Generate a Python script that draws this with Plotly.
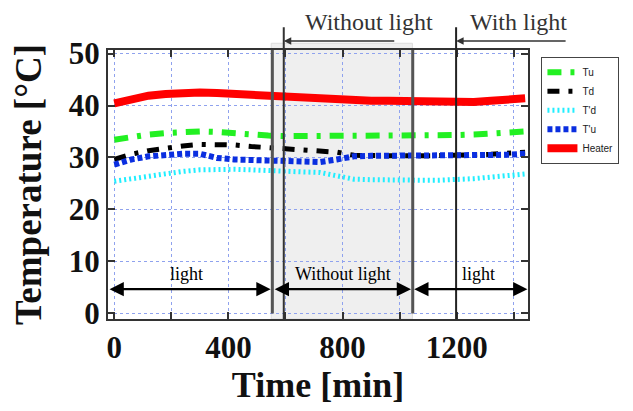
import plotly.graph_objects as go

time_min = [0, 60, 120, 180, 240, 300, 360, 420, 480, 540, 600, 660, 720, 780, 840,
            900, 960, 1020, 1080, 1140, 1200, 1260, 1320, 1380, 1440]
heater = [40.4, 41.3, 41.9, 42.2, 42.4, 42.5, 42.4, 42.2, 42.0, 41.8, 41.7, 41.6, 41.5,
          41.2, 40.9, 40.9, 40.9, 40.8, 40.7, 40.6, 40.6, 40.7, 40.9, 41.1, 41.4]
tu = [33.4, 34.0, 34.4, 34.7, 34.9, 35.0, 34.9, 34.6, 34.4, 34.2, 34.1, 34.1, 34.2,
      34.3, 34.3, 34.2, 34.2, 34.2, 34.2, 34.2, 34.3, 34.4, 34.6, 34.8, 35.0]
td = [29.6, 30.6, 31.3, 31.8, 32.2, 32.5, 32.5, 32.4, 32.1, 31.9, 31.7, 31.5, 31.3,
      31.0, 30.4, 30.3, 30.3, 30.3, 30.3, 30.3, 30.4, 30.5, 30.6, 30.8, 31.0]
tdp = [25.4, 25.9, 26.4, 26.9, 27.3, 27.6, 27.7, 27.7, 27.6, 27.4, 27.3, 27.2, 27.1,
       26.4, 25.8, 25.7, 25.6, 25.6, 25.6, 25.6, 25.7, 25.9, 26.2, 26.5, 26.8]
tup = [28.6, 29.6, 30.2, 30.5, 30.7, 30.7, 29.9, 29.6, 29.4, 29.4, 29.3, 29.2, 29.1,
       29.6, 30.2, 30.3, 30.3, 30.3, 30.3, 30.3, 30.3, 30.4, 30.4, 30.5, 30.7]

x_ticks = [0, 200, 400, 600, 800, 1000, 1200, 1400]
x_labels = ["0", "", "400", "", "800", "", "1200", ""]
y_ticks = [0, 10, 20, 30, 40, 50]

# phase boundaries (min)
shade_start, shade_end = 550, 1045
line_a, line_b, line_c, line_d = 554, 594, 1046, 1198

SERIF = "Liberation Serif"

fig = go.Figure()
fig.add_trace(go.Scatter(x=time_min, y=tu, name="Tu", mode="lines",
                         line=dict(color="#22f022", width=6, dash="14px,9px,4px,9px")))
fig.add_trace(go.Scatter(x=time_min, y=td, name="Td", mode="lines",
                         line=dict(color="black", width=5, dash="12px,9px,4px,9px")))
fig.add_trace(go.Scatter(x=time_min, y=tdp, name="T'd", mode="lines",
                         line=dict(color="#22eeff", width=5, dash="2px,3px")))
fig.add_trace(go.Scatter(x=time_min, y=tup, name="T'u", mode="lines",
                         line=dict(color="#0a2ee0", width=6, dash="5px,3px")))
fig.add_trace(go.Scatter(x=time_min, y=heater, name="Heater", mode="lines",
                         line=dict(color="#ff0000", width=8)))

shapes = [
    dict(type="rect", xref="x", yref="paper", x0=shade_start, x1=shade_end, y0=0, y1=1.025,
         fillcolor="#efefef", line=dict(color="#dddddd", width=1), layer="below"),
    dict(type="line", xref="x", yref="paper", x0=line_a, x1=line_a, y0=0.02, y1=1,
         line=dict(color="#555555", width=3)),
    dict(type="line", xref="x", yref="paper", x0=line_b, x1=line_b, y0=0, y1=1.085,
         line=dict(color="#333333", width=2)),
    dict(type="line", xref="x", yref="paper", x0=line_c, x1=line_c, y0=0.02, y1=1,
         line=dict(color="#555555", width=3)),
    dict(type="line", xref="x", yref="paper", x0=line_d, x1=line_d, y0=0, y1=1.085,
         line=dict(color="#222222", width=2)),
]

annotations = [
    # top labels
    dict(x=894, y=1.104, xref="x", yref="paper", yanchor="middle", text="Without light",
         showarrow=False, borderpad=0, font=dict(family=SERIF, size=24, color="#333333")),
    dict(x=1418, y=1.104, xref="x", yref="paper", yanchor="middle", text="With light",
         showarrow=False, borderpad=0, font=dict(family=SERIF, size=24, color="#333333")),
    # top arrows
    dict(x=line_b, y=1.033, xref="x", yref="paper", ax=112, ay=0, text="", showarrow=True,
         arrowhead=2, arrowsize=1, arrowwidth=1.5, arrowcolor="#333333"),
    dict(x=line_d, y=1.033, xref="x", yref="paper", ax=111, ay=0, text="", showarrow=True,
         arrowhead=2, arrowsize=1, arrowwidth=1.5, arrowcolor="#333333"),
    # bottom double arrows
    dict(x=548, y=4.6, xref="x", yref="y", ax=-22, ay=4.6, axref="x", ayref="y", text="",
         showarrow=True, arrowhead=2, startarrowhead=2, arrowside="end+start",
         arrowsize=1.3, startarrowsize=1.3, arrowwidth=2.2, arrowcolor="black"),
    dict(x=1040, y=4.6, xref="x", yref="y", ax=557, ay=4.6, axref="x", ayref="y", text="",
         showarrow=True, arrowhead=2, startarrowhead=2, arrowside="end+start",
         arrowsize=1.3, startarrowsize=1.3, arrowwidth=2.2, arrowcolor="black"),
    dict(x=1448, y=4.6, xref="x", yref="y", ax=1046, ay=4.6, axref="x", ayref="y", text="",
         showarrow=True, arrowhead=2, startarrowhead=2, arrowside="end+start",
         arrowsize=1.3, startarrowsize=1.3, arrowwidth=2.2, arrowcolor="black"),
    dict(x=252, y=7.6, xref="x", yref="y", text="light", showarrow=False,
         font=dict(family=SERIF, size=18, color="black")),
    dict(x=800, y=7.6, xref="x", yref="y", text="Without light", showarrow=False,
         font=dict(family=SERIF, size=18, color="black")),
    dict(x=1275, y=7.6, xref="x", yref="y", text="light", showarrow=False,
         font=dict(family=SERIF, size=18, color="black")),
]

grid_color = "#8fa2ee"
fig.update_layout(
    width=625, height=403,
    margin=dict(l=100, r=105, t=42, b=92, autoexpand=False),
    paper_bgcolor="white", plot_bgcolor="white",
    shapes=shapes, annotations=annotations,
    showlegend=True,
    legend=dict(x=1.032, y=0.975, xanchor="left", yanchor="top",
                bordercolor="#444444", borderwidth=1, bgcolor="white",
                font=dict(family="Liberation Sans", size=10, color="#222222"),
                itemwidth=30, tracegroupgap=0, traceorder="normal"),
    xaxis=dict(range=[-22, 1450], tickvals=x_ticks, ticktext=x_labels, automargin=False,
               ticks="inside", ticklen=7, tickwidth=2, tickcolor="#333333",
               showline=True, linecolor="#333333", linewidth=2, mirror="ticks",
               showgrid=True, gridcolor=grid_color, griddash="dot", gridwidth=1,
               zeroline=False,
               tickfont=dict(family=SERIF, size=31, color="#111111", weight="bold"),
               title=dict(text="<b>Time [min]</b>", standoff=2,
                          font=dict(family=SERIF, size=36, color="#111111"))),
    yaxis=dict(range=[-1.15, 50.7], tickvals=y_ticks, automargin=False,
               ticks="inside", ticklen=7, tickwidth=2, tickcolor="#333333",
               showline=True, linecolor="#333333", linewidth=2, mirror="ticks",
               showgrid=True, gridcolor=grid_color, griddash="dot", gridwidth=1,
               zeroline=False,
               tickfont=dict(family=SERIF, size=31, color="#111111", weight="bold"),
               title=dict(text="<b>Temperature [°C]</b>", standoff=20,
                          font=dict(family=SERIF, size=37, color="#111111"))),
)

fig.write_html("out.html")
